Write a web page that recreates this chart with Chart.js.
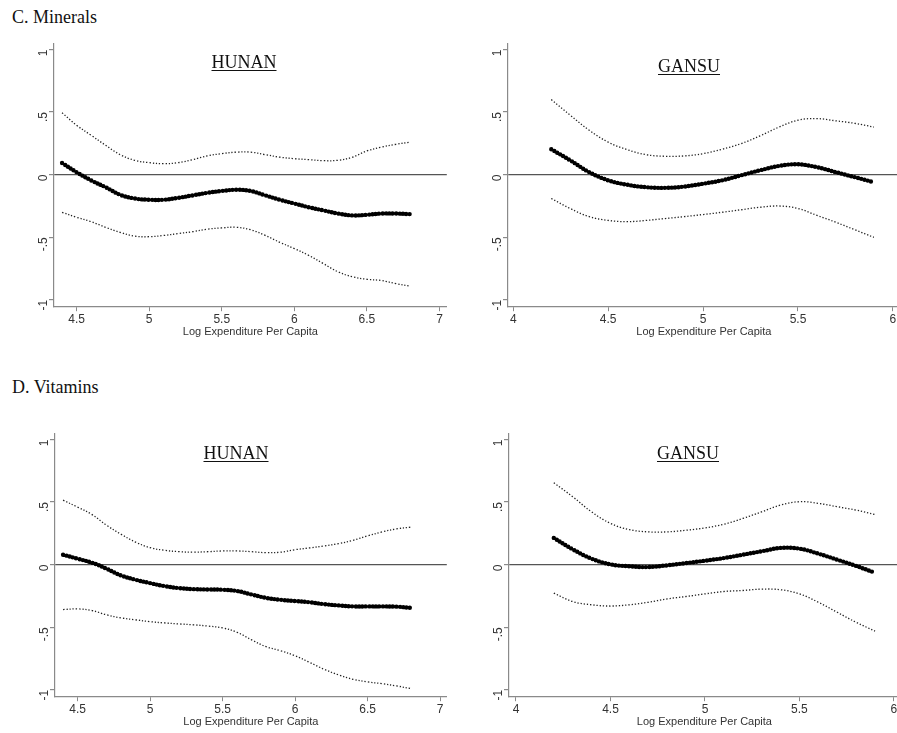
<!DOCTYPE html>
<html>
<head>
<meta charset="utf-8">
<script src="https://cdn.jsdelivr.net/npm/chart.js@4.4.1/dist/chart.umd.min.js"></script>
<style>
  body { margin: 0; background: #fff; overflow: hidden; }
  #page { position: relative; width: 897px; height: 733px; overflow: hidden; }
  canvas { position: absolute; }
  .section { position: absolute; font-family: "Liberation Serif", "Times New Roman", serif; font-size: 18px; line-height: 1; color: #111; white-space: nowrap; }
  .prov { position: absolute; font-family: "Liberation Serif", "Times New Roman", serif; font-size: 18px; line-height: 1; color: #111; text-decoration: underline; text-underline-offset: 2px; transform: translateX(-50%); white-space: nowrap; }
</style>
</head>
<body>
<div id="page">
  <div class="section" style="left:12px;top:8px">C. Minerals</div>
  <div class="section" style="left:12px;top:378px">D. Vitamins</div>

  <canvas id="c-hunan" width="435" height="310"></canvas>
  <canvas id="c-gansu" width="434" height="310"></canvas>
  <canvas id="d-hunan" width="434" height="310"></canvas>
  <canvas id="d-gansu" width="433" height="310"></canvas>

  <div class="prov" style="left:244px;top:53px">HUNAN</div>
  <div class="prov" style="left:689px;top:57px">GANSU</div>
  <div class="prov" style="left:236px;top:444px">HUNAN</div>
  <div class="prov" style="left:688px;top:444px">GANSU</div>
</div>

<script>
// ---- data ----
const hunanX = [4.4, 4.5, 4.6, 4.7, 4.8, 4.9, 5.0, 5.1, 5.2, 5.3, 5.4, 5.5, 5.6,
  5.7, 5.8, 5.9, 6.0, 6.1, 6.2, 6.3, 6.4, 6.5, 6.6, 6.7, 6.8];
const gansuX = [4.2, 4.3, 4.4, 4.5, 4.6, 4.7, 4.8, 4.9, 5.0, 5.1, 5.2, 5.3, 5.4,
  5.5, 5.6, 5.7, 5.8, 5.9];

// C. Minerals - Hunan
const minHunanFit = [0.093, 0.02, -0.045, -0.10, -0.16, -0.19, -0.20, -0.20, -0.185, -0.165, -0.145, -0.13, -0.12,
  -0.13, -0.165, -0.20, -0.23, -0.26, -0.285, -0.31, -0.325, -0.32, -0.31, -0.31, -0.315];
const minHunanHi = [0.495, 0.395, 0.315, 0.235, 0.16, 0.115, 0.096, 0.088, 0.096, 0.12, 0.15, 0.168, 0.18,
  0.18, 0.16, 0.14, 0.128, 0.12, 0.112, 0.115, 0.14, 0.19, 0.22, 0.243, 0.26];
const minHunanLo = [-0.30, -0.34, -0.375, -0.42, -0.46, -0.49, -0.495, -0.485, -0.47, -0.455, -0.435, -0.425, -0.42,
  -0.44, -0.485, -0.54, -0.59, -0.645, -0.71, -0.775, -0.815, -0.835, -0.845, -0.87, -0.89];

// C. Minerals - Gansu
const minGansuFit = [0.203, 0.115, 0.02, -0.045, -0.08, -0.10, -0.105, -0.095, -0.072, -0.045, -0.005, 0.035,
  0.07, 0.083, 0.06, 0.02, -0.02, -0.06];
const minGansuHi = [0.60, 0.475, 0.355, 0.26, 0.20, 0.16, 0.147, 0.15, 0.168, 0.203, 0.248, 0.31,
  0.38, 0.435, 0.448, 0.43, 0.41, 0.38];
const minGansuLo = [-0.19, -0.27, -0.335, -0.365, -0.375, -0.365, -0.35, -0.335, -0.318, -0.30, -0.28, -0.26,
  -0.25, -0.27, -0.325, -0.38, -0.44, -0.50];

// D. Vitamins - Hunan
const vitHunanFit = [0.08, 0.048, 0.016, -0.032, -0.086, -0.12, -0.147, -0.171, -0.187, -0.195, -0.198, -0.20, -0.21,
  -0.238, -0.265, -0.28, -0.29, -0.30, -0.315, -0.325, -0.333, -0.333, -0.333, -0.335, -0.345];
const vitHunanHi = [0.515, 0.46, 0.40, 0.315, 0.243, 0.18, 0.136, 0.115, 0.104, 0.10, 0.104, 0.11, 0.11,
  0.104, 0.096, 0.10, 0.12, 0.134, 0.15, 0.168, 0.195, 0.23, 0.262, 0.286, 0.30];
const vitHunanLo = [-0.358, -0.353, -0.366, -0.40, -0.425, -0.44, -0.455, -0.465, -0.473, -0.48, -0.49, -0.505, -0.54,
  -0.60, -0.655, -0.687, -0.727, -0.78, -0.835, -0.88, -0.915, -0.936, -0.95, -0.968, -0.99];

// D. Vitamins - Gansu
const vitGansuFit = [0.214, 0.123, 0.048, 0.003, -0.013, -0.019, -0.005, 0.013, 0.032, 0.053, 0.08, 0.107,
  0.134, 0.128, 0.088, 0.04, -0.01, -0.064];
const vitGansuHi = [0.655, 0.543, 0.422, 0.33, 0.28, 0.262, 0.262, 0.275, 0.294, 0.323, 0.369, 0.422,
  0.476, 0.503, 0.49, 0.463, 0.436, 0.40];
const vitGansuLo = [-0.227, -0.294, -0.32, -0.33, -0.32, -0.30, -0.273, -0.254, -0.233, -0.214, -0.206, -0.195,
  -0.20, -0.233, -0.30, -0.38, -0.46, -0.53];

const yTicks = [-1, -0.5, 0, 0.5, 1];
const hunanXTicks = [4.5, 5, 5.5, 6, 6.5, 7];
const gansuXTicks = [4, 4.5, 5, 5.5, 6];
const xTitle = "Log Expenditure Per Capita";

// ---- helpers ----
const sans = "'Liberation Sans', Arial, sans-serif";
const axisGray = "#8a8a8a";

function pts(xs, ys) {
  return xs.map((x, i) => ({ x: x, y: ys[i] }));
}

function stataLabel(v) {
  if (v === 0) return "0";
  return String(v).replace("0.", ".");
}

// move/resize the canvas so the plot area sits where the original one is
function placeChart(chart, area) {
  let ca = chart.chartArea;
  const w = chart.width + (area.right - area.left) - (ca.right - ca.left);
  const h = chart.height + (area.bottom - area.top) - (ca.bottom - ca.top);
  chart.resize(w, h);
  ca = chart.chartArea;
  chart.canvas.style.left = (area.left - ca.left) + "px";
  chart.canvas.style.top = (area.top - ca.top) + "px";
}

function makePanel(id, xs, fit, hi, lo, xTicks, xMin, xMax, area) {
  const ctx = document.getElementById(id).getContext("2d");
  const ci = {
    borderColor: "#222",
    borderWidth: 1.3,
    borderDash: [1.3, 1.9],
    pointRadius: 0,
    tension: 0.4,
    fill: false,
  };

  const chart = new Chart(ctx, {
    type: "line",
    data: {
      datasets: [
        Object.assign({ label: "upper", data: pts(xs, hi) }, ci),
        Object.assign({ label: "lower", data: pts(xs, lo) }, ci),
        {
          label: "fit",
          data: pts(xs, fit),
          borderColor: "#000",
          borderWidth: 4.4,
          borderDash: [0, 3.4],
          borderCapStyle: "round",
          pointRadius: 0,
          tension: 0.4,
          fill: false,
        },
      ],
    },
    options: {
      responsive: false,
      maintainAspectRatio: false,
      animation: false,
      layout: { padding: 0 },
      plugins: { legend: { display: false }, tooltip: { enabled: false } },
      scales: {
        x: {
          type: "linear",
          min: xMin,
          max: xMax,
          afterBuildTicks: (s) => { s.ticks = xTicks.map((v) => ({ value: v })); },
          afterFit: (s) => { s.height = 40; },
          grid: { drawOnChartArea: false, color: axisGray, tickLength: 5 },
          border: { color: axisGray, width: 1.2 },
          ticks: {
            color: "#333",
            font: { family: sans, size: 12 },
            padding: 1,
            maxRotation: 0,
            callback: (v) => String(v),
          },
          title: {
            display: true,
            text: xTitle,
            color: "#333",
            font: { family: sans, size: 11 },
            padding: { top: 0, bottom: 8 },
          },
        },
        y: {
          min: -1.05,
          max: 1.05,
          afterBuildTicks: (s) => { s.ticks = yTicks.map((v) => ({ value: v })); },
          afterFit: (s) => { s.width = 40; },
          grid: {
            color: (c) => (c.tick && c.tick.value === 0 ? "#555" : "rgba(0,0,0,0)"),
            tickColor: axisGray,
            lineWidth: 1.2,
            tickLength: 5,
          },
          border: { color: axisGray, width: 1.2 },
          ticks: {
            color: "#333",
            font: { family: sans, size: 12 },
            padding: 5,
            minRotation: 90,
            maxRotation: 90,
            callback: (v) => stataLabel(v),
          },
        },
      },
    },
  });
  placeChart(chart, area);
}

makePanel("c-hunan", hunanX, minHunanFit, minHunanHi, minHunanLo, hunanXTicks, 4.3445, 7.05,
  { left: 54, top: 43, right: 449, bottom: 306 });
makePanel("c-gansu", gansuX, minGansuFit, minGansuHi, minGansuLo, gansuXTicks, 3.972, 6.0365,
  { left: 508, top: 43, right: 902, bottom: 306 });
makePanel("d-hunan", hunanX, vitHunanFit, vitHunanHi, vitHunanLo, hunanXTicks, 4.3444, 7.046,
  { left: 55, top: 433, right: 449, bottom: 696 });
makePanel("d-gansu", gansuX, vitGansuFit, vitGansuHi, vitGansuLo, gansuXTicks, 3.963, 6.031,
  { left: 509, top: 433, right: 902, bottom: 696 });
</script>
</body>
</html>
